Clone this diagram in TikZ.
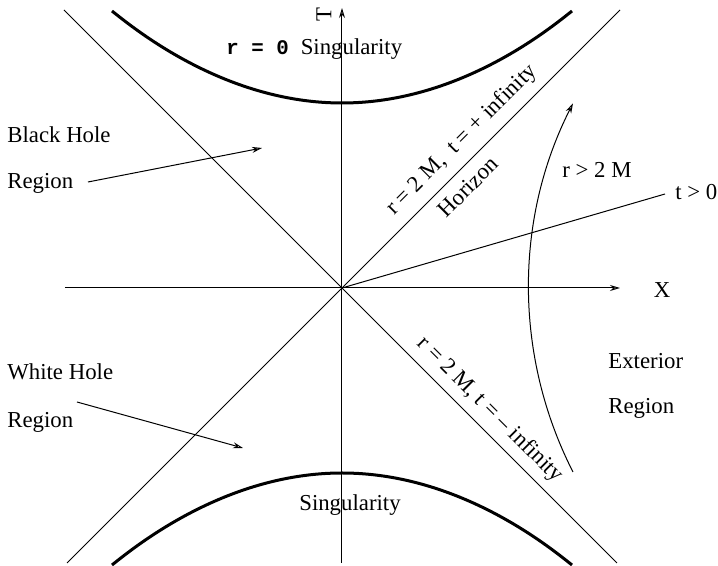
\documentclass[tikz,border=0pt]{standalone}
\usepackage{fontspec}
\setmainfont{Liberation Serif}
\setmonofont{Liberation Mono}
\usepackage{tikz}
\usetikzlibrary{arrows.meta,positioning}

\begin{document}
\begin{tikzpicture}[x=0.5pt,y=0.5pt,>={Stealth[open,length=5pt,width=3pt]},
  axisline/.style={line width=0.5pt},
  singline/.style={line width=1.5pt},
  lbl/.style={font=\fontsize{11.4}{13}\selectfont,inner sep=0pt}]
\useasboundingbox (-342,-278) rectangle (376,288);
\coordinate (O) at (0,0);
\coordinate (Xl) at (-277,0);
\coordinate (Xr) at (278,0);
\coordinate (Tb) at (0,-275);
\coordinate (Tt) at (0,280);
\coordinate (Hul) at (-278,278);
\coordinate (Hlr) at (275,-275);
\coordinate (Hur) at (278,278);
\coordinate (Hll) at (-275,-275);
\coordinate (tpos) at (323,94);
\coordinate (rarc) at (231,-184);
% axes and horizons
\draw[axisline,->] (Xl) -- (Xr);
\draw[axisline,->] (Tb) -- (Tt);
\draw[axisline] (Hul) -- (Hlr);
\draw[axisline] (Hll) -- (Hur);
\draw[axisline] (O) -- (tpos);
\draw[axisline,->] (rarc) arc[start angle=207,end angle=153,radius=406];
% singularities
\draw[singline] (-230,277) parabola bend (0,185) (230,277);
\draw[singline] (-230,-277) parabola bend (0,-185) (230,-277);
% labels
\node[lbl] (xlab) at (320,-2) {X};
\node[lbl,rotate=90] (tlab) at (-18,273) {T};
\node[lbl,anchor=west] (tgt) at (333,96) {t > 0};
\node[lbl] (rgt) at (255,118) {r > 2 M};
\node[lbl,anchor=base west] (sing) at (-116,233)
  {{\fontsize{10.4}{12}\selectfont\ttfamily\bfseries r = 0}\hspace{6pt}Singularity};
\node[lbl] (sinb) at (8,-217) {Singularity};
\node[lbl,rotate=45] (hplus) at (120,148) {r = 2 M, \ t = + infinity};
\node[lbl,rotate=45] (hor) at (126,101) {Horizon};
\node[lbl,rotate=-45] (hminus) at (148,-122) {r = 2 M, t = -- infinity};
\node[lbl,anchor=west] (bh) at (-335,153) {Black Hole};
\node[lbl,anchor=west] (bhreg) at (-335,105) {Region};
\node[lbl,anchor=west] (wh) at (-335,-84) {White Hole};
\node[lbl,anchor=west] (whreg) at (-335,-134) {Region};
\node[lbl,anchor=west] (ext) at (266,-73) {Exterior};
\node[lbl,anchor=west] (extreg) at (266,-120) {Region};
\coordinate (bhfrom) at (-254,106);
\coordinate (bhto) at (-80,140);
\coordinate (whfrom) at (-265,-114);
\coordinate (whto) at (-99,-160);
\draw[axisline,->] (bhfrom) -- (bhto);
\draw[axisline,->] (whfrom) -- (whto);
\end{tikzpicture}
\end{document}
